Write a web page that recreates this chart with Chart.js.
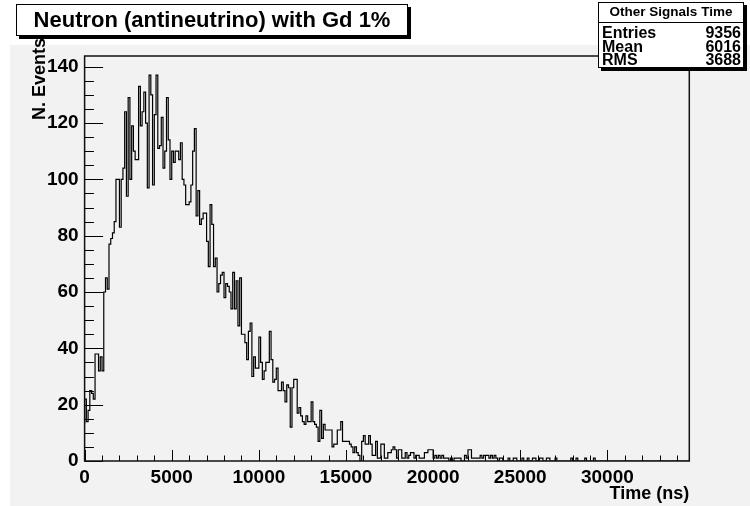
<!DOCTYPE html>
<html>
<head>
<meta charset="utf-8">
<title>Neutron (antineutrino) with Gd 1%</title>
<script src="https://cdn.jsdelivr.net/npm/chart.js@4.4.0/dist/chart.umd.min.js"></script>
<style>
  html, body { margin: 0; padding: 0; background: #ffffff; }
  #wrap { width: 750px; height: 506px; }
</style>
</head>
<body>
<div id="wrap"><canvas id="histo" width="750" height="506"></canvas></div>
<script>
// histogram: capture time of the neutron, 100 ns bins
const binWidth = 100;
const timeMax = 34700;
const counts = [
  13, 22, 14, 18, 25, 24, 22, 38, 38, 32,
  37, 32, 60, 65, 61, 77, 79, 81, 85, 100,
  100, 83, 100, 104, 124, 94, 129, 100, 119, 110,
  107, 107, 133, 119, 124, 131, 120, 97, 137, 130,
  98, 123, 137, 111, 112, 122, 104, 110, 129, 114,
  100, 110, 106, 110, 110, 107, 113, 100, 98, 91,
  91, 92, 98, 110, 118, 87, 96, 84, 86, 88,
  88, 78, 69, 91, 84, 69, 72, 60, 63, 66,
  67, 58, 63, 62, 60, 54, 67, 54, 64, 48,
  65, 45, 45, 42, 36, 46, 49, 30, 37, 33,
  33, 44, 35, 29, 32, 35, 35, 46, 36, 28,
  29, 33, 25, 25, 28, 25, 21, 27, 26, 12,
  26, 29, 29, 17, 19, 16, 14, 13, 16, 14,
  14, 21, 14, 13, 12, 7, 18, 8, 13, 11,
  11, 11, 11, 5, 6, 6, 11, 11, 14, 7,
  7, 7, 7, 6, 5, 3, 5, 3, 2, 0,
  7, 9, 6, 6, 9, 6, 2, 2, 7, 1,
  1, 6, 6, 1, 1, 3, 3, 4, 5, 4,
  1, 4, 4, 1, 1, 3, 1, 2, 3, 3,
  1, 2, 2, 1, 1, 1, 3, 3, 4, 4,
  4, 1, 2, 1, 2, 1, 2, 1, 1, 1,
  0, 1, 0, 1, 1, 1, 1, 0, 0, 2,
  1, 4, 4, 1, 1, 1, 1, 1, 2, 1,
  2, 2, 2, 1, 2, 1, 2, 1, 0, 1,
  1, 0, 0, 0, 1, 0, 0, 1, 1, 0,
  0, 0, 1, 0, 0, 1, 0, 0, 1, 1,
  0, 0, 1, 1, 0, 0, 1, 1, 0, 0,
  0, 1, 0, 0, 0, 0, 0, 0, 0, 0,
  1, 0, 0, 1, 0, 0, 0, 0, 1, 0,
  0, 0, 0, 1, 0, 0, 0, 0, 0, 0,
  0, 0, 0, 0, 0, 0, 0, 0, 0, 0,
  0, 0, 0, 0, 0, 0, 0, 0, 0, 0,
  0, 0, 0, 0, 0, 0, 0, 0, 0, 0,
  0, 0, 0, 0, 0, 0, 0, 0, 0, 0,
  0, 0, 0, 0, 0, 0, 0
];
const xTicks = [0, 5000, 10000, 15000, 20000, 25000, 30000];
const yTicks = [0, 20, 40, 60, 80, 100, 120, 140];
const yMax = 143.8;

const histTitle = 'Neutron (antineutrino) with Gd 1%';
const statsName = 'Other Signals Time';
const statsLabels = ['Entries', 'Mean', 'RMS'];
const statsValues = ['9356', '6016', '3688'];
const xTitle = 'Time (ns)';
const yTitle = 'N. Events';

const FONT = '"Liberation Sans", Arial, Helvetica, sans-serif';

// lower bin edges, plus one closing point at the upper edge
let points = counts.map((c, i) => ({x: i * binWidth, y: c}));
points.push({x: counts.length * binWidth, y: counts[counts.length - 1]});

function shadowBox(ctx, x, y, w, h)
{
    ctx.fillStyle = '#000';
    ctx.fillRect(x + 3, y + 3, w, h);
    ctx.fillStyle = '#fff';
    ctx.fillRect(x, y, w, h);
    ctx.strokeStyle = '#000';
    ctx.lineWidth = 1;
    ctx.strokeRect(x + 0.5, y + 0.5, w - 1, h - 1);
}

const rootStyle = {
    id: 'rootStyle',
    beforeDraw(chart)
    {
        const ctx = chart.ctx;
        ctx.save();
        ctx.fillStyle = '#ffffff';
        ctx.fillRect(0, 0, chart.width, chart.height);
        ctx.fillStyle = '#f2f2f2';
        ctx.fillRect(10, 45, chart.width - 10, chart.height - 45);
        ctx.restore();
    },
    afterDatasetsDraw(chart)
    {
        const {ctx, chartArea: a, scales: {x, y}} = chart;
        ctx.save();

        // tick marks point into the frame
        ctx.strokeStyle = '#000';
        ctx.lineWidth = 1;
        ctx.beginPath();
        for (let v = 0; v <= timeMax; v += 1000)
        {
            const px = Math.round(x.getPixelForValue(v)) + 0.5;
            const len = v % 5000 === 0 ? 11 : 5.5;
            ctx.moveTo(px, a.bottom);
            ctx.lineTo(px, a.bottom - len);
        }
        for (let v = 0; v <= yMax; v += 5)
        {
            const py = Math.round(y.getPixelForValue(v)) + 0.5;
            const len = v % 20 === 0 ? 18.5 : 9.3;
            ctx.moveTo(a.left, py);
            ctx.lineTo(a.left + len, py);
        }
        ctx.stroke();

        // frame
        ctx.lineWidth = 1.5;
        ctx.strokeStyle = '#111';
        ctx.strokeRect(a.left, a.top, a.right - a.left, a.bottom - a.top);

        // axis titles
        ctx.fillStyle = '#000';
        ctx.font = 'bold 18px ' + FONT;
        ctx.textAlign = 'right';
        ctx.textBaseline = 'middle';
        ctx.fillText(xTitle, a.right, 494);
        ctx.save();
        ctx.translate(40, 38);
        ctx.rotate(-Math.PI / 2);
        ctx.fillText(yTitle, 0, 0);
        ctx.restore();

        // title box
        shadowBox(ctx, 16, 4, 392, 32);
        ctx.fillStyle = '#000';
        ctx.font = 'bold 22px ' + FONT;
        ctx.textAlign = 'center';
        ctx.fillText(histTitle, 212, 20.5);

        // statistics box
        shadowBox(ctx, 598, 2, 146, 66);
        ctx.beginPath();
        ctx.moveTo(598, 22.5);
        ctx.lineTo(744, 22.5);
        ctx.stroke();
        ctx.fillStyle = '#000';
        ctx.font = 'bold 13.5px ' + FONT;
        ctx.textAlign = 'center';
        ctx.fillText(statsName, 671, 12.5);
        ctx.font = 'bold 16px ' + FONT;
        const rowY = [34, 47.5, 60.5];
        statsLabels.forEach((label, i) =>
        {
            ctx.textAlign = 'left';
            ctx.fillText(label, 602, rowY[i]);
            ctx.textAlign = 'right';
            ctx.fillText(statsValues[i], 741, rowY[i]);
        });

        ctx.restore();
    }
};

const tickFont = {family: FONT, size: 19, weight: 'bold'};

new Chart(document.getElementById('histo'), {
    type: 'line',
    data: {
        datasets: [{
            data: points,
            stepped: 'after',
            borderColor: '#000',
            borderWidth: 1.2,
            pointRadius: 0,
            fill: false
        }]
    },
    options: {
        responsive: false,
        animation: false,
        layout: {padding: {left: 0, top: 56, right: 60.7, bottom: 0}},
        plugins: {legend: {display: false}, tooltip: {enabled: false}},
        scales: {
            x: {
                type: 'linear',
                min: 0,
                max: timeMax,
                afterBuildTicks: scale => { scale.ticks = xTicks.map(v => ({value: v})); },
                afterFit: scale => { scale.height = 45; },
                grid: {display: false, drawTicks: false},
                border: {display: false},
                ticks: {
                    font: tickFont,
                    color: '#000',
                    padding: 5,
                    maxRotation: 0,
                    autoSkip: false,
                    callback: v => String(v)
                }
            },
            y: {
                min: 0,
                max: yMax,
                afterBuildTicks: scale => { scale.ticks = yTicks.map(v => ({value: v})); },
                afterFit: scale => { scale.width = 84.6; },
                grid: {display: false, drawTicks: false},
                border: {display: false},
                ticks: {
                    font: tickFont,
                    color: '#000',
                    padding: 6,
                    autoSkip: false,
                    callback: v => String(v)
                }
            }
        }
    },
    plugins: [rootStyle]
});
</script>
</body>
</html>
